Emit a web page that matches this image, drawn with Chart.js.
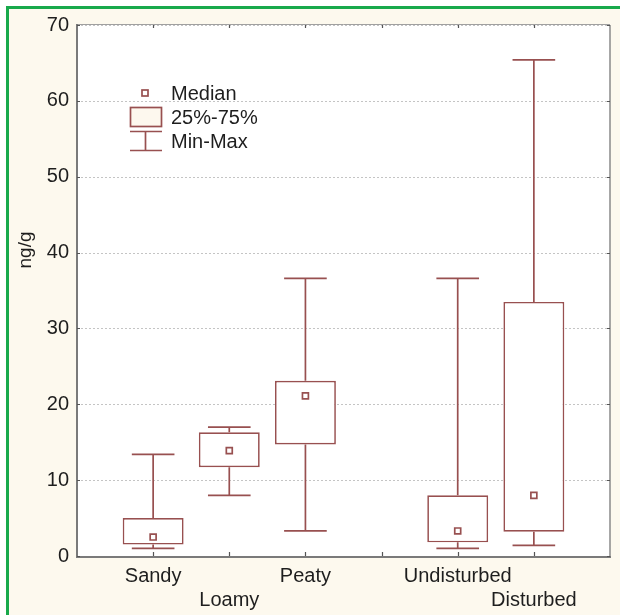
<!DOCTYPE html>
<html>
<head>
<meta charset="utf-8">
<script src="https://cdn.jsdelivr.net/npm/chart.js@4/dist/chart.umd.min.js"></script>
<style>
  html, body { margin: 0; padding: 0; background: #ffffff; }
  #wrap { position: relative; width: 626px; height: 615px; overflow: hidden; }
  #frame { position: absolute; left: 6px; top: 6px; width: 611px; height: 609px;
           background: #fdf9ee; border-left: 3px solid #18a94b; border-top: 3px solid #18a94b; }
  #c { position: absolute; left: 0; top: 0; }
</style>
</head>
<body>
<div id="wrap">
  <div id="frame"></div>
  <canvas id="c" width="626" height="615"></canvas>
</div>
<script>
// ---- data ----
const categories = ['Sandy', 'Loamy', 'Peaty', 'Undisturbed', 'Disturbed'];
const positions  = [1, 2, 3, 5, 6];
const labelRow   = [0, 1, 0, 0, 1];          // which label line each category sits on
const mins    = [1.0,  8.0,  3.3,  1.0,  1.4];
const q1s     = [1.5, 11.7, 14.7,  1.8,  3.2];
const medians = [2.5, 13.9, 21.1,  3.3,  8.0];
const q3s     = [5.0, 16.3, 23.1,  8.0, 33.5];
const maxs    = [13.4, 17.0, 36.6, 36.6, 65.4];
const yTicks  = [0, 10, 20, 30, 40, 50, 60, 70];
const legendItems = ['Median', '25%-75%', 'Min-Max'];
const yTitle = 'ng/g';

const BROWN = '#985050';
const LW = 1.7;
const FONT = '"Liberation Sans", Arial, sans-serif';
const CAP_HALF = 0.28;   // whisker cap half-width, in x units

const plotPlugin = {
  id: 'plotPlugin',
  beforeDatasetsDraw(chart) {
    const { ctx, chartArea: a, scales: { x, y } } = chart;
    ctx.save();
    ctx.fillStyle = '#ffffff';
    ctx.fillRect(a.left, a.top, a.right - a.left, a.bottom - a.top);
    // dotted grid lines
    ctx.strokeStyle = '#c4c4c4';
    ctx.lineWidth = 1;
    ctx.setLineDash([2, 2]);
    yTicks.forEach(v => {
      const py = Math.round(y.getPixelForValue(v)) + 0.5;
      ctx.beginPath(); ctx.moveTo(a.left, py); ctx.lineTo(a.right, py); ctx.stroke();
    });
    ctx.setLineDash([]);
    // whiskers
    ctx.strokeStyle = BROWN;
    ctx.lineWidth = LW;
    positions.forEach((p, i) => {
      const px = x.getPixelForValue(p);
      const xl = x.getPixelForValue(p - CAP_HALF), xr = x.getPixelForValue(p + CAP_HALF);
      const yMin = y.getPixelForValue(mins[i]), yQ1 = y.getPixelForValue(q1s[i]);
      const yQ3 = y.getPixelForValue(q3s[i]), yMax = y.getPixelForValue(maxs[i]);
      ctx.beginPath();
      ctx.moveTo(px, yMin); ctx.lineTo(px, yQ1);
      ctx.moveTo(px, yQ3); ctx.lineTo(px, yMax);
      ctx.moveTo(xl, yMin); ctx.lineTo(xr, yMin);
      ctx.moveTo(xl, yMax); ctx.lineTo(xr, yMax);
      ctx.stroke();
    });
    ctx.restore();
  },
  afterDatasetsDraw(chart) {
    const { ctx, chartArea: a, scales: { x, y } } = chart;
    ctx.save();
    // frame of plot
    ctx.strokeStyle = '#a0a0a0'; ctx.lineWidth = 1;
    ctx.beginPath(); ctx.moveTo(a.left, a.top - 0.5); ctx.lineTo(a.right, a.top - 0.5); ctx.stroke();
    ctx.strokeStyle = '#8a8a8a'; ctx.lineWidth = 1.5;
    ctx.beginPath(); ctx.moveTo(a.right, a.top); ctx.lineTo(a.right, a.bottom); ctx.stroke();
    ctx.strokeStyle = '#7a7a7a'; ctx.lineWidth = 2;
    ctx.beginPath(); ctx.moveTo(a.left, a.top - 1); ctx.lineTo(a.left, a.bottom + 1);
    ctx.lineTo(a.right + 1, a.bottom + 1); ctx.stroke();
    // inside ticks
    ctx.strokeStyle = '#555'; ctx.lineWidth = 1.2;
    for (let t = 1; t <= 6; t++) {
      const px = Math.round(x.getPixelForValue(t)) + 0.5;
      ctx.beginPath();
      ctx.moveTo(px, a.bottom); ctx.lineTo(px, a.bottom - 4);
      ctx.moveTo(px, a.top); ctx.lineTo(px, a.top + 3);
      ctx.stroke();
    }
    yTicks.forEach(v => {
      const py = Math.round(y.getPixelForValue(v)) + 0.5;
      ctx.beginPath();
      ctx.moveTo(a.right, py); ctx.lineTo(a.right - 3, py);
      ctx.moveTo(a.left, py); ctx.lineTo(a.left + 3, py);
      ctx.stroke();
    });
    // legend
    ctx.strokeStyle = BROWN; ctx.lineWidth = LW;
    ctx.fillStyle = '#ffffff';
    ctx.fillRect(142, 90, 6, 6); ctx.strokeRect(142, 90, 6, 6);
    ctx.fillStyle = '#fdf8ee';
    ctx.fillRect(130.5, 107.5, 31, 19); ctx.strokeRect(130.5, 107.5, 31, 19);
    ctx.beginPath();
    ctx.moveTo(130, 131.5); ctx.lineTo(162, 131.5);
    ctx.moveTo(130, 150.5); ctx.lineTo(162, 150.5);
    ctx.moveTo(145.5, 131.5); ctx.lineTo(145.5, 150.5);
    ctx.stroke();
    ctx.fillStyle = '#1e1e1e';
    ctx.font = '20px ' + FONT;
    ctx.textAlign = 'left'; ctx.textBaseline = 'middle';
    const ly = [94, 118, 142];
    legendItems.forEach((t, i) => ctx.fillText(t, 171, ly[i]));
    // y title
    ctx.translate(26, 250);
    ctx.rotate(-Math.PI / 2);
    ctx.textAlign = 'center'; ctx.textBaseline = 'middle';
    ctx.font = '19px ' + FONT;
    ctx.fillText(yTitle, 0, 0);
    ctx.restore();
  }
};

const xLabel = v => {
  const i = positions.indexOf(v);
  if (i < 0) return '';
  return labelRow[i] === 0 ? [categories[i], ''] : ['', categories[i]];
};

new Chart(document.getElementById('c'), {
  data: {
    datasets: [
      {
        type: 'bar',
        data: positions.map((p, i) => ({ x: p, y: [q1s[i], q3s[i]] })),
        backgroundColor: '#ffffff',
        borderColor: BROWN,
        borderWidth: LW,
        borderSkipped: false,
        barPercentage: 0.8,
        categoryPercentage: 1.0,
        order: 2
      },
      {
        type: 'scatter',
        data: positions.map((p, i) => ({ x: p, y: medians[i] })),
        pointStyle: 'rect',
        pointRadius: 4.2,
        backgroundColor: '#ffffff',
        borderColor: BROWN,
        borderWidth: LW,
        order: 1
      }
    ]
  },
  options: {
    responsive: false,
    animation: false,
    devicePixelRatio: 1,
    layout: { padding: { top: 25, right: 16, left: 0, bottom: 0 } },
    plugins: { legend: { display: false }, tooltip: { enabled: false } },
    scales: {
      x: {
        type: 'linear',
        offset: false,
        min: 0, max: 7,
        grid: { display: false, drawTicks: false, offset: false },
        border: { display: false },
        afterFit: s => { s.height = 59; },
        afterBuildTicks: s => { s.ticks = [0,1,2,3,4,5,6,7].map(v => ({ value: v })); },
        ticks: {
          autoSkip: false, maxRotation: 0, minRotation: 0,
          padding: 8,
          color: '#1e1e1e',
          font: { family: FONT, size: 20, lineHeight: 1.2 },
          callback: v => xLabel(v)
        }
      },
      y: {
        type: 'linear',
        min: 0, max: 70,
        grid: { display: false, drawTicks: false },
        border: { display: false },
        afterFit: s => { s.width = 77; },
        afterBuildTicks: s => { s.ticks = yTicks.map(v => ({ value: v })); },
        ticks: {
          padding: 8,
          color: '#1e1e1e',
          font: { family: FONT, size: 20 },
          callback: v => String(v)
        }
      }
    }
  },
  plugins: [plotPlugin]
});
</script>
</body>
</html>
